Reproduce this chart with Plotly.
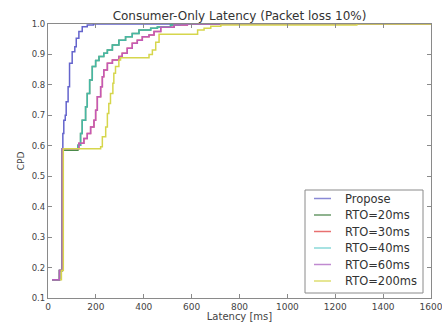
import plotly.graph_objects as go

# ---- data ----
propose_x = [17, 48, 59, 62, 66, 72, 76, 84, 90, 101, 112, 118, 129, 143, 164, 190, 1600]
propose_y = [0.16, 0.19, 0.59, 0.64, 0.684, 0.70, 0.745, 0.794, 0.871, 0.909, 0.925, 0.953, 0.975, 0.991, 0.997, 1.0, 1.0]

rto40_x = [17, 48, 60, 125, 136, 143, 157, 164, 174, 185, 199, 213, 233, 248, 269, 296, 324, 352, 380, 429, 457, 512, 550, 1600]
rto40_y = [0.16, 0.19, 0.59, 0.602, 0.64, 0.684, 0.728, 0.772, 0.816, 0.86, 0.88, 0.893, 0.904, 0.915, 0.931, 0.947, 0.958, 0.969, 0.98, 0.986, 0.99, 0.997, 1.0, 1.0]
rto20_x = list(rto40_x)
rto20_y = [0.16, 0.19, 0.585, 0.602, 0.64, 0.684, 0.728, 0.772, 0.816, 0.86, 0.88, 0.893, 0.904, 0.915, 0.931, 0.947, 0.958, 0.969, 0.98, 0.986, 0.99, 0.997, 1.0, 1.0]

rto60_x = [17, 48, 60, 129, 150, 164, 178, 192, 199, 206, 220, 227, 233, 248, 269, 296, 310, 331, 352, 373, 394, 422, 443, 471, 527, 582, 1600]
rto60_y = [0.16, 0.19, 0.59, 0.608, 0.624, 0.64, 0.662, 0.684, 0.717, 0.761, 0.794, 0.827, 0.849, 0.871, 0.882, 0.893, 0.904, 0.92, 0.937, 0.947, 0.958, 0.964, 0.975, 0.989, 0.997, 1.0, 1.0]
rto30_x = list(rto60_x)
rto30_y = list(rto60_y)

rto200_x = [50, 56, 64, 220, 227, 241, 248, 254, 261, 271, 275, 282, 296, 303, 422, 436, 450, 464, 625, 652, 680, 722, 1290, 1600]
rto200_y = [0.16, 0.19, 0.59, 0.597, 0.63, 0.662, 0.706, 0.739, 0.772, 0.805, 0.838, 0.86, 0.882, 0.889, 0.90, 0.915, 0.94, 0.966, 0.98, 0.986, 0.993, 0.997, 1.0, 1.0]

series_names = ["Propose", "RTO=20ms", "RTO=30ms", "RTO=40ms", "RTO=60ms", "RTO=200ms"]
series_x = [propose_x, rto20_x, rto30_x, rto40_x, rto60_x, rto200_x]
series_y = [propose_y, rto20_y, rto30_y, rto40_y, rto60_y, rto200_y]
series_colors = ["#6464cc", "#4a8a4a", "#e05a5a", "rgba(70,190,180,0.85)",
                 "rgba(192,90,192,0.9)", "#d6d64c"]
legend_colors = ["#8a8ad6", "#6a9a6a", "#e87070", "#8ad8d8", "#c08ad0", "#dede70"]

x_ticks = [0, 200, 400, 600, 800, 1000, 1200, 1400, 1600]
y_ticks = [0.1, 0.2, 0.3, 0.4, 0.5, 0.6, 0.7, 0.8, 0.9, 1.0]

W, H = 442, 322
ML, MR, MT, MB = 48, 11, 24, 24
PW, PH = W - ML - MR, H - MT - MB


def px2paper(px, py):
    return (px - ML) / PW, (H - MB - py) / PH


fig = go.Figure()
for name, xs, ys, col in zip(series_names, series_x, series_y, series_colors):
    fig.add_trace(go.Scatter(x=xs, y=ys, mode="lines", name=name, showlegend=False,
                             line=dict(color=col, width=1.5, shape="hv")))

# legend box drawn in paper coordinates (matplotlib-style compact legend)
shapes = []
annotations = []
bx0, by0 = px2paper(305, 190)
bx1, by1 = px2paper(423, 293)
shapes.append(dict(type="rect", xref="paper", yref="paper", x0=bx0, x1=bx1, y0=by1, y1=by0,
                   line=dict(color="#8a8a8a", width=1), fillcolor="white", layer="above"))
for i, (name, col) in enumerate(zip(series_names, legend_colors)):
    cy = 198.5 + 16.5 * i
    lx0, ly = px2paper(314, cy)
    lx1, _ = px2paper(331, cy)
    tx, _ = px2paper(343, cy)
    shapes.append(dict(type="line", xref="paper", yref="paper", x0=lx0, x1=lx1, y0=ly, y1=ly,
                       line=dict(color=col, width=1.5), layer="above"))
    annotations.append(dict(xref="paper", yref="paper", x=tx, y=ly, xanchor="left",
                            yanchor="middle", text=name, showarrow=False,
                            font=dict(size=11.5, color="#333", family="DejaVu Sans")))

axis_common = dict(showgrid=False, zeroline=False, showline=True, linecolor="#8a8a8a",
                   linewidth=1.2, mirror="ticks", ticks="inside", ticklen=4,
                   tickcolor="#8a8a8a", automargin=False, ticklabeloverflow="allow")

fig.update_layout(
    width=W, height=H,
    margin=dict(l=ML, r=MR, t=MT, b=MB, pad=0),
    paper_bgcolor="white", plot_bgcolor="white",
    font=dict(family="DejaVu Sans", color="#444"),
    title=dict(text="Consumer-Only Latency (Packet loss 10%)", x=(ML + PW / 2) / W, xanchor="center",
               y=1 - 16 / H, yanchor="middle", font=dict(size=12, color="#333")),
    xaxis=dict(range=[0, 1600], tickvals=x_ticks, ticktext=[str(v) for v in x_ticks],
               tickfont=dict(size=9, color="#444"),
               title=dict(text="Latency [ms]", font=dict(size=10), standoff=1), **axis_common),
    yaxis=dict(range=[0.1, 1.0], tickvals=y_ticks, ticktext=["%.1f" % v for v in y_ticks],
               tickfont=dict(size=8.5, color="#444"),
               title=dict(text="CPD", font=dict(size=9), standoff=5), **axis_common),
    shapes=shapes,
    annotations=annotations,
    showlegend=False,
)

fig.write_html("out.html")
